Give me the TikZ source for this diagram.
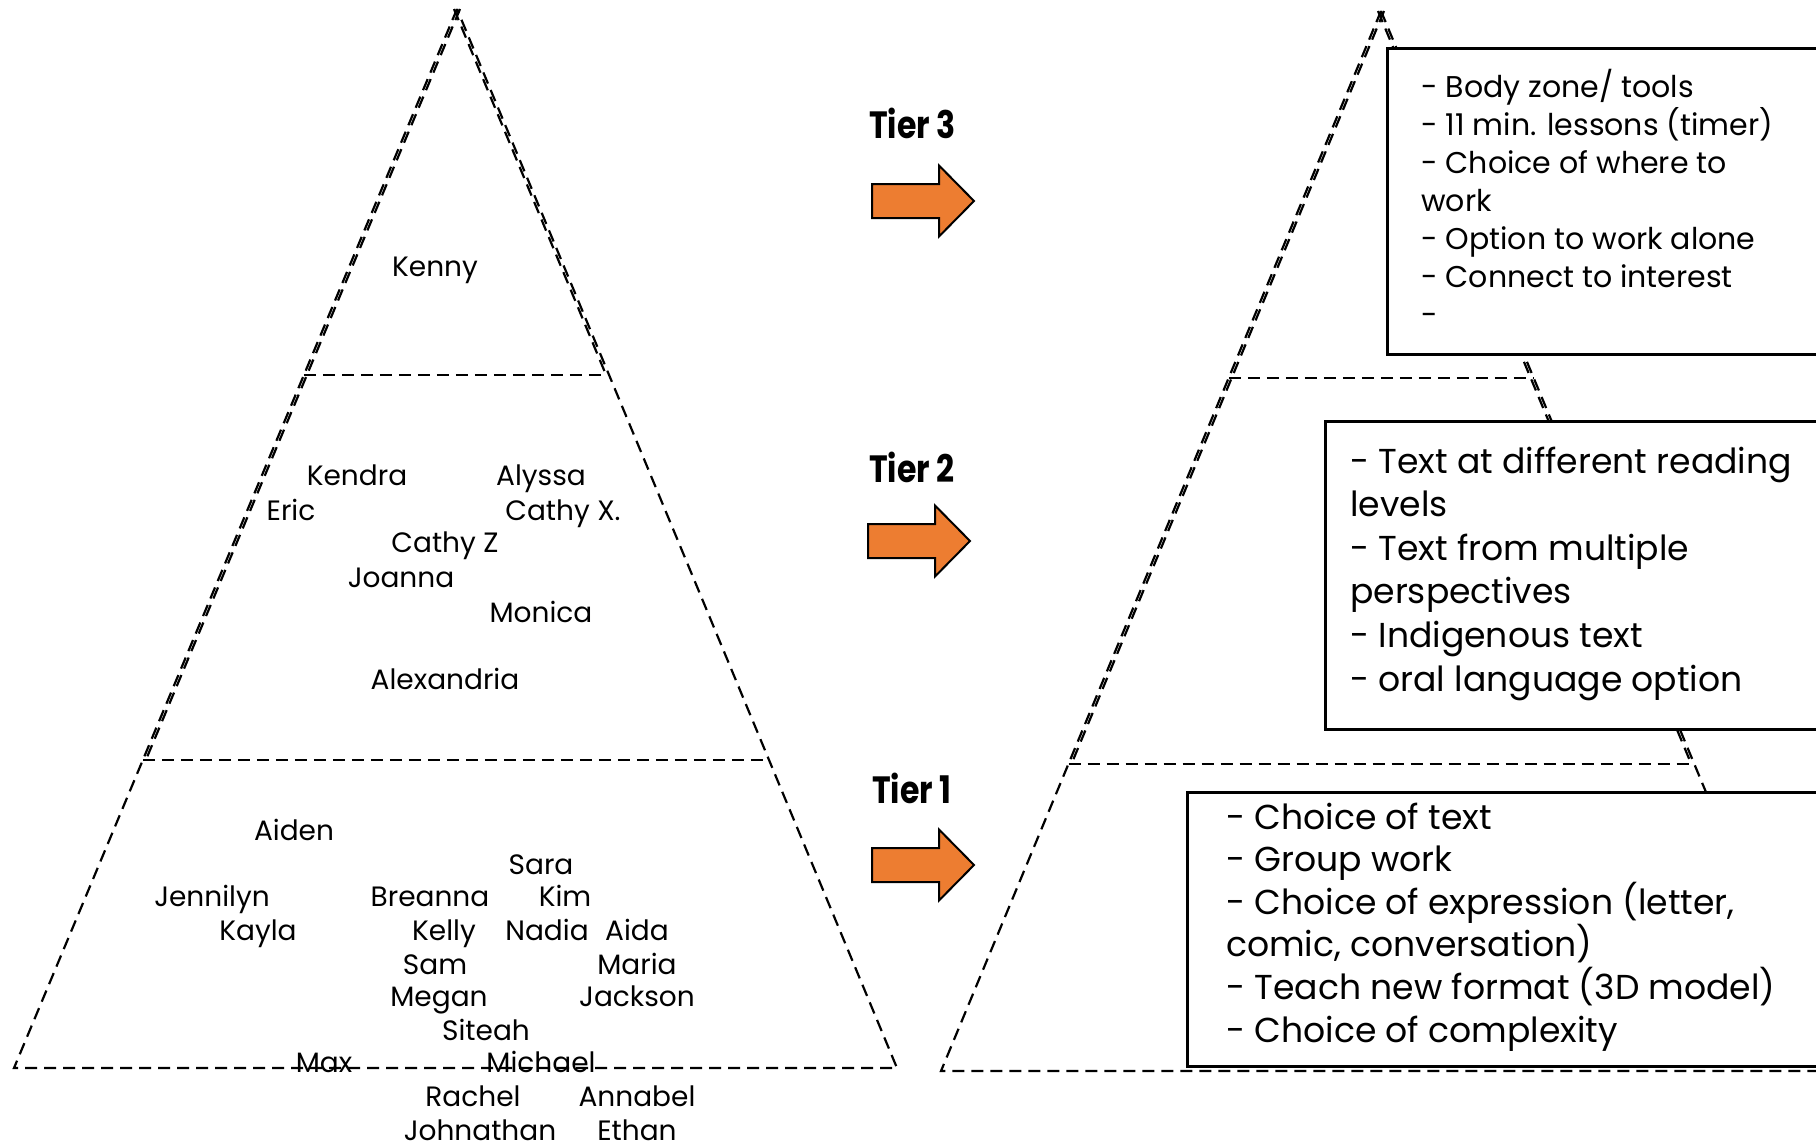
\documentclass[tikz,border=0pt]{standalone}
\usepackage{fontspec}
\setmainfont{Poppins}
\usetikzlibrary{calc}
\definecolor{arroworange}{HTML}{ED7D31}
\begin{document}
\begin{tikzpicture}[x=1pt,y=-1pt,
  guide/.style={line width=2.2pt, dash pattern=on 12pt off 7pt},
  namelabel/.style={anchor=base, inner sep=0pt, font=\fontsize{28}{34}\selectfont},
  tierlabel/.style={anchor=base west, inner sep=0pt, xscale=0.83,
    font=\fontsize{38}{40}\selectfont\bfseries},
  notebox/.style={draw, line width=2.8pt, fill=white, anchor=north west, inner sep=0pt},
  smallnote/.style={anchor=base west, inner sep=0pt, font=\fontsize{30}{38}\selectfont},
  largenote/.style={anchor=base west, inner sep=0pt, font=\fontsize{34.6}{43}\selectfont},
  pics/tierarrow/.style={code={
    \draw[fill=arroworange, line width=2pt, line join=miter]
      (0,-17) -- (67,-17) -- (67,-35.5) -- (102,0) -- (67,35.5) -- (67,17) -- (0,17) -- cycle;
  }}
]
\path[use as bounding box] (0,0) rectangle (1816,1148);
\clip (0,0) rectangle (1816,1148);

% ---------- left pyramid: the class in three tiers ----------
\coordinate (LA) at (457,9);
\coordinate (LBL) at (14,1068);
\coordinate (LBR) at (897,1068);
\coordinate (L1l) at ($(LA)!0.3456!(LBL)$);
\coordinate (L1r) at ($(LA)!0.3456!(LBR)$);
\coordinate (L2l) at ($(LA)!0.709!(LBL)$);
\coordinate (L2r) at ($(LA)!0.709!(LBR)$);
\draw[guide] (LA) -- (LBL) -- (LBR) -- cycle;
\draw[guide] (L1l) -- (L1r);
\draw[guide] (L2l) -- (L2r);
% upper tiers traced a second time just inside the outline
\draw[guide] ([xshift=3pt]LA) -- ([xshift=3pt]L2l);
\draw[guide] ([xshift=-3pt]LA) -- ([xshift=-3pt]L1r);

\foreach \x/\y/\t [count=\i] in {
  435/276/Kenny,
  357/485/Kendra, 541/485/Alyssa, 291/520/Eric, 563/520/Cathy X.,
  445/552/Cathy Z, 401/587/Joanna, 541/622/Monica, 445/689/Alexandria,
  294/840/Aiden, 541/874/Sara,
  212/906/Jennilyn, 430/906/Breanna, 565/906/Kim,
  258/940/Kayla, 444/940/Kelly, 547/940/Nadia, 637/940/Aida,
  435/974/Sam, 637/974/Maria, 439/1006/Megan, 637/1006/Jackson,
  486/1040/Siteah, 324/1072/Max, 541/1072/Michael,
  473/1106/Rachel, 637/1106/Annabel, 480/1140/Johnathan, 637/1140/Ethan}
  \node[namelabel] (student\i) at (\x,\y) {\t};

% ---------- tier labels and arrows ----------
\node[tierlabel] (tier3) at (869,138) {Tier 3};
\node[tierlabel] (tier2) at (869,482) {Tier 2};
\node[tierlabel] (tier1) at (872,803) {Tier 1};
\pic (arrow3) at (872,201) {tierarrow};
\pic (arrow2) at (868,541) {tierarrow};
\pic (arrow1) at (872,865) {tierarrow};

% ---------- right pyramid: supports for each tier ----------
\coordinate (RA) at (1381,11);
\coordinate (RBL) at (941,1071);
\coordinate (RBR) at (1822,1071);
\coordinate (R1l) at ($(RA)!0.346!(RBL)$);
\coordinate (R1r) at ($(RA)!0.346!(RBR)$);
\coordinate (R2l) at ($(RA)!0.71!(RBL)$);
\coordinate (R2r) at ($(RA)!0.71!(RBR)$);
\draw[guide] (RA) -- (RBL) -- (RBR);
\draw[guide] (RA) -- (RBR);
\draw[guide] (R1l) -- (R1r);
\draw[guide] (R2l) -- (R2r);
\draw[guide] ([xshift=3pt]RA) -- ([xshift=3pt]R2l);
\draw[guide] ([xshift=-3pt]RA) -- ([xshift=-3pt]R2r);

% note boxes (they run past the right margin)
\node[notebox, minimum width=460pt, minimum height=306pt] (box3) at (1386,47) {};
\node[notebox, minimum width=520pt, minimum height=308pt] (box2) at (1324,420) {};
\node[notebox, minimum width=660pt, minimum height=274pt] (box1) at (1186,791) {};

\foreach \t [count=\i] in {
  - Body zone/ tools, - 11 min. lessons (timer), - Choice of where to, work,
  - Option to work alone, - Connect to interest, -}
  \node[smallnote] (topnote\i) at (1421,{97.5+38*(\i-1)}) {\t};

\foreach \t [count=\i] in {
  - Text at different reading, levels, - Text from multiple, perspectives,
  - Indigenous text, - oral language option}
  \node[largenote] (midnote\i) at (1350,{473+43.6*(\i-1)}) {\t};

\foreach \t [count=\i] in {
  - Choice of text, - Group work, {- Choice of expression (letter,},
  {comic, conversation)}, - Teach new format (3D model), - Choice of complexity}
  \node[largenote] (basenote\i) at (1226,{829+42.6*(\i-1)}) {\t};
\end{tikzpicture}
\end{document}
